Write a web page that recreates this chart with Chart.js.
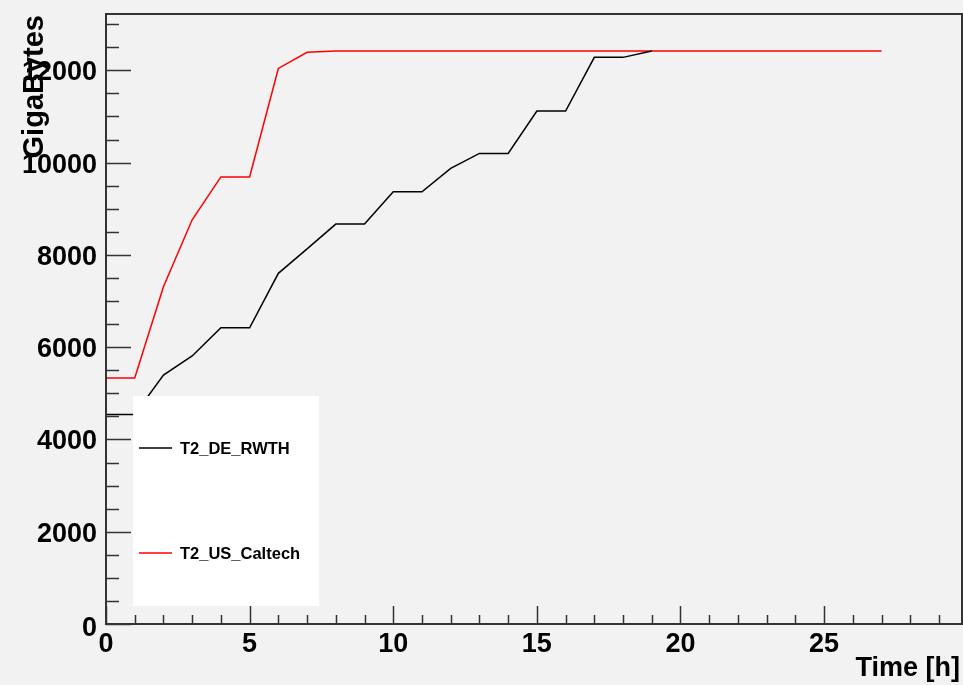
<!DOCTYPE html>
<html>
<head>
<meta charset="utf-8">
<script src="https://cdn.jsdelivr.net/npm/chart.js@4"></script>
<style>
  body { margin: 0; background: #f2f2f2; }
  canvas { display: block; }
</style>
</head>
<body>
<canvas id="myChart" width="963" height="685"></canvas>
<script>
// data
const hoursRWTH = [0, 1, 2, 3, 4, 5, 6, 7, 8, 9, 10, 11, 12, 13, 14, 15, 16, 17, 18, 19];
const rwth = [4540, 4540, 5395, 5810, 6420, 6420, 7600, 8130, 8667, 8667, 9367, 9367, 9874, 10199, 10199, 11116, 11116, 12280, 12280, 12416];

const hoursCaltech = [0, 1, 2, 3, 4, 5, 6, 7, 8, 9, 10, 11, 12, 13, 14, 15, 16, 17, 18, 19, 20, 21, 22, 23, 24, 25, 26, 27];
const caltech = [5330, 5330, 7310, 8760, 9690, 9690, 12040, 12390, 12416, 12416, 12416, 12416, 12416, 12416,
  12416, 12416, 12416, 12416, 12416, 12416, 12416, 12416, 12416, 12416, 12416, 12416, 12416, 12416];

const xTicks = [0, 5, 10, 15, 20, 25];
const yTicks = [0, 2000, 4000, 6000, 8000, 10000, 12000];
const seriesNames = ['T2_DE_RWTH', 'T2_US_Caltech'];
const seriesColors = ['#000000', '#ff0000'];

const toPoints = (xs, ys) => xs.map((x, i) => ({ x: x, y: ys[i] }));

const FONT = '"Liberation Sans", Arial, Helvetica, sans-serif';

const rootStyle = {
  id: 'rootStyle',
  beforeDraw(chart) {
    const ctx = chart.ctx;
    ctx.save();
    ctx.fillStyle = '#f2f2f2';
    ctx.fillRect(0, 0, chart.width, chart.height);
    ctx.restore();
  },
  afterDatasetsDraw(chart) {
    const ctx = chart.ctx;
    const area = chart.chartArea;
    const xs = chart.scales.x;
    const ys = chart.scales.y;

    ctx.save();

    // legend box (drawn over the lines, like the original)
    const lx = area.left + 27, ly = area.top + 382;
    ctx.fillStyle = '#ffffff';
    ctx.fillRect(lx, ly, 186, 210);
    const entryY = [ly + 52, ly + 157];
    ctx.font = 'bold 16.5px ' + FONT;
    ctx.textBaseline = 'middle';
    ctx.textAlign = 'left';
    seriesNames.forEach((name, i) => {
      ctx.strokeStyle = seriesColors[i];
      ctx.lineWidth = 1.5;
      ctx.beginPath();
      ctx.moveTo(lx + 6, entryY[i]);
      ctx.lineTo(lx + 39, entryY[i]);
      ctx.stroke();
      ctx.fillStyle = '#000';
      ctx.fillText(name, lx + 47, entryY[i] + 1);
    });

    // frame
    ctx.strokeStyle = '#333';
    ctx.lineWidth = 2;
    ctx.strokeRect(area.left, area.top, area.right - area.left, area.bottom - area.top);

    // y ticks (inward)
    ctx.lineWidth = 1.5;
    for (let v = 0; v <= ys.max; v += 500) {
      const py = Math.round(ys.getPixelForValue(v)) + 0.5;
      const len = v % 2000 === 0 ? 25 : 13;
      ctx.beginPath();
      ctx.moveTo(area.left, py);
      ctx.lineTo(area.left + len, py);
      ctx.stroke();
    }
    // x ticks (inward)
    for (let t = 0; t <= xs.max; t += 1) {
      const px = Math.round(xs.getPixelForValue(t)) + 0.5;
      const len = t % 5 === 0 ? 18 : 9;
      ctx.beginPath();
      ctx.moveTo(px, area.bottom);
      ctx.lineTo(px, area.bottom - len);
      ctx.stroke();
    }

    // tick labels
    ctx.fillStyle = '#000';
    ctx.font = 'bold 27px ' + FONT;
    ctx.textBaseline = 'alphabetic';
    ctx.textAlign = 'right';
    yTicks.forEach((v) => {
      const py = ys.getPixelForValue(v);
      ctx.fillText(String(v), area.left - 9, py + 10 + (v === 0 ? 2 : 0));
    });
    ctx.textAlign = 'center';
    xTicks.forEach((t) => {
      const px = xs.getPixelForValue(t);
      ctx.fillText(String(t), px, area.bottom + 28);
    });

    // axis titles
    ctx.font = 'bold 27px ' + FONT;
    ctx.textAlign = 'right';
    ctx.fillText('Time [h]', area.right - 2, chart.height - 9);

    ctx.translate(43, area.top + 1);
    ctx.rotate(-Math.PI / 2);
    ctx.font = 'bold 29px ' + FONT;
    ctx.textAlign = 'right';
    ctx.textBaseline = 'alphabetic';
    ctx.fillText('GigaBytes', 0, 0);

    ctx.restore();
  }
};

const ctx = document.getElementById('myChart');
const chart = new Chart(ctx, {
  type: 'line',
  data: {
    datasets: [
      {
        label: seriesNames[0],
        data: toPoints(hoursRWTH, rwth),
        borderColor: seriesColors[0],
        borderWidth: 1.5,
        pointRadius: 0,
        tension: 0,
        fill: false
      },
      {
        label: seriesNames[1],
        data: toPoints(hoursCaltech, caltech),
        borderColor: seriesColors[1],
        borderWidth: 1.5,
        pointRadius: 0,
        tension: 0,
        fill: false
      }
    ]
  },
  options: {
    responsive: false,
    animation: false,
    layout: {
      padding: { left: 106, right: 1, top: 14, bottom: 61 }
    },
    scales: {
      x: { type: 'linear', min: 0, max: 29.8, display: false },
      y: { min: 0, max: 13220, display: false }
    },
    plugins: {
      legend: { display: false },
      tooltip: { enabled: false }
    }
  },
  plugins: [rootStyle]
});
</script>
</body>
</html>
